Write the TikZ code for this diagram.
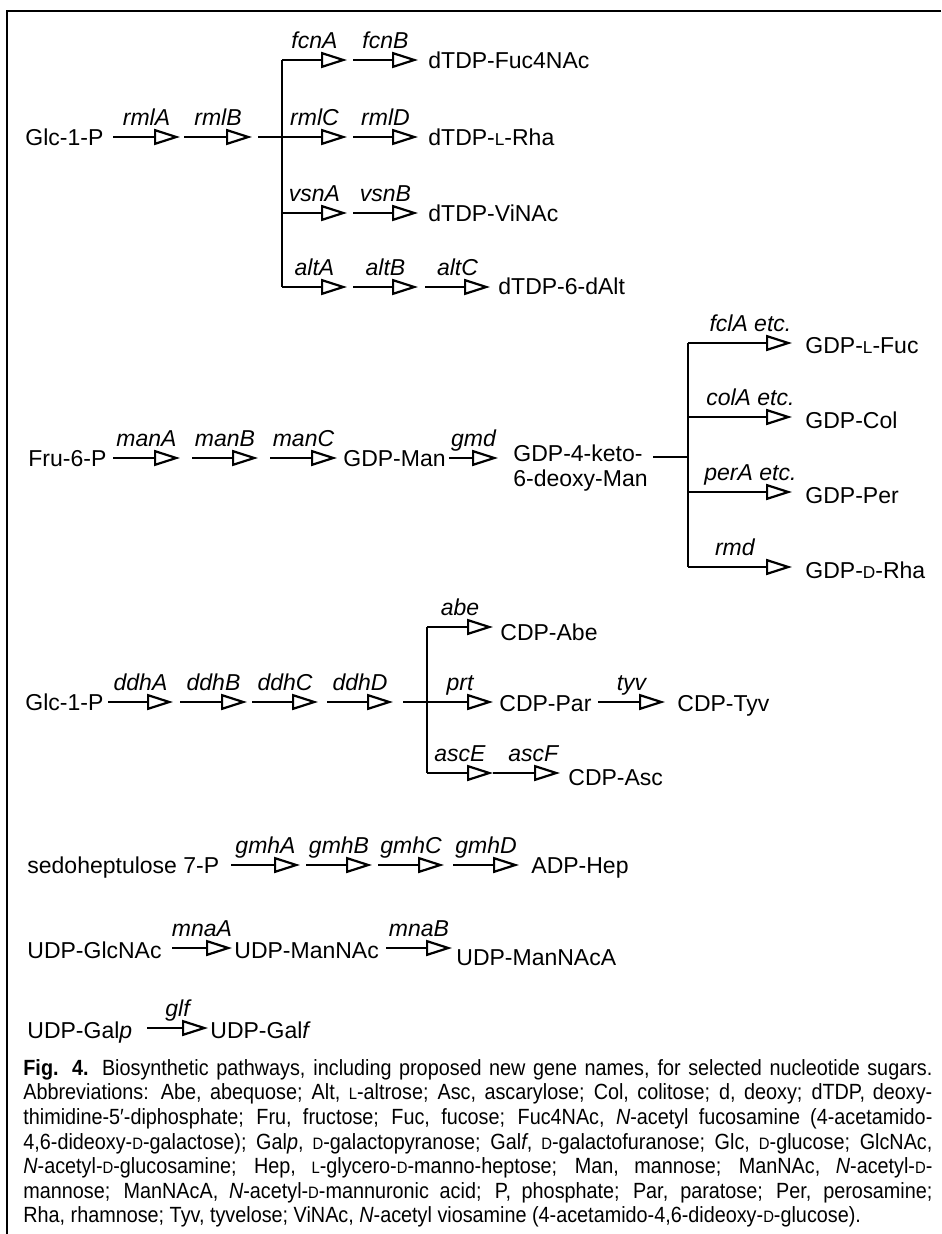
\documentclass[tikz,border=0pt]{standalone}
\usepackage{fontspec}
\usepackage{tikz}
\setmainfont{Liberation Sans}
\usetikzlibrary{arrows.meta}
\newcommand{\lsc}{\scalebox{0.75}{L}}
\newcommand{\dsc}{\scalebox{0.75}{D}}
\newcommand{\captext}[1]{\scalebox{0.9}[1]{\parbox{505pt}{\fontsize{11}{12.3}\selectfont#1}}}
\tolerance=9999
\hyphenpenalty=10000

\tikzset{
  txt/.style={inner sep=0pt,font=\fontsize{11.5}{12.5}\selectfont},
  sugar/.style={txt,anchor=west,text height=8.2pt,text depth=0pt},
  gene/.style={txt,midway,above=5pt,text height=8.2pt,text depth=0pt,font=\fontsize{11.5}{12.5}\selectfont\itshape},
  rxn/.style={line width=1.1pt,-{Triangle[open,length=13pt,width=8pt]}},
  bar/.style={line width=1.1pt},
  capbox/.style={anchor=north west,inner sep=0pt}
}

\begin{document}
\begin{tikzpicture}[x=0.5pt,y=-0.5pt]
  \useasboundingbox (0,0) rectangle (941,1234);
  % Frame
  \draw[line width=0.8pt] (941,11) -- (7,11) -- (7,1234);

  % Glc-1-P to dTDP sugars
  \node[sugar] (glc1) at (25,137) {Glc-1-P};
  \coordinate (rml1a) at (113,137); \coordinate (rml1b) at (180,137);
  \coordinate (rml2a) at (184,137); \coordinate (rml2b) at (252,137);
  \coordinate (tstub) at (258,137); \coordinate (tj) at (282,137);
  \coordinate (tv1) at (282,60); \coordinate (tv3) at (282,213); \coordinate (tv4) at (282,287);
  \draw[rxn] (rml1a) -- (rml1b) node[gene] (rmlA) {rmlA};
  \draw[rxn] (rml2a) -- (rml2b) node[gene] (rmlB) {rmlB};
  \draw[bar] (tstub) -- (tj);
  \draw[bar] (tv1) -- (tv4);
  % fcn
  \coordinate (fcn1) at (347,60); \coordinate (fcn2a) at (353,60); \coordinate (fcn2b) at (418,60);
  \draw[rxn] (tv1) -- (fcn1) node[gene] (fcnA) {fcnA};
  \draw[rxn] (fcn2a) -- (fcn2b) node[gene] (fcnB) {fcnB};
  \node[sugar] (fuc4nac) at (428,60) {dTDP-Fuc4NAc};
  % rml
  \coordinate (rml3) at (347,137); \coordinate (rml4a) at (353,137); \coordinate (rml4b) at (418,137);
  \draw[rxn] (tj) -- (rml3) node[gene] (rmlC) {rmlC};
  \draw[rxn] (rml4a) -- (rml4b) node[gene] (rmlD) {rmlD};
  \node[sugar] (lrha) at (428,137) {dTDP-\lsc-Rha};
  % vsn
  \coordinate (vsn1) at (347,213); \coordinate (vsn2a) at (353,213); \coordinate (vsn2b) at (418,213);
  \draw[rxn] (tv3) -- (vsn1) node[gene] (vsnA) {vsnA};
  \draw[rxn] (vsn2a) -- (vsn2b) node[gene] (vsnB) {vsnB};
  \node[sugar] (vinac) at (428,213) {dTDP-ViNAc};
  % alt
  \coordinate (alt1) at (347,287); \coordinate (alt2a) at (353,287); \coordinate (alt2b) at (418,287);
  \coordinate (alt3a) at (425,287); \coordinate (alt3b) at (490,287);
  \draw[rxn] (tv4) -- (alt1) node[gene] (altA) {altA};
  \draw[rxn] (alt2a) -- (alt2b) node[gene] (altB) {altB};
  \draw[rxn] (alt3a) -- (alt3b) node[gene] (altC) {altC};
  \node[sugar] (dalt) at (498,286) {dTDP-6-dAlt};

  % Fru-6-P to GDP sugars
  \node[sugar] (fru6p) at (28,458) {Fru-6-P};
  \coordinate (man1a) at (113,458); \coordinate (man1b) at (180,458);
  \coordinate (man2a) at (192,458); \coordinate (man2b) at (258,458);
  \coordinate (man3a) at (270,458); \coordinate (man3b) at (337,458);
  \draw[rxn] (man1a) -- (man1b) node[gene] (manA) {manA};
  \draw[rxn] (man2a) -- (man2b) node[gene] (manB) {manB};
  \draw[rxn] (man3a) -- (man3b) node[gene] (manC) {manC};
  \node[sugar] (gdpman) at (343,458) {GDP-Man};
  \coordinate (gmda) at (449,458); \coordinate (gmdb) at (498,458);
  \draw[rxn] (gmda) -- (gmdb) node[gene] (gmd) {gmd};
  \node[txt,anchor=north west,align=left] (keto) at (513,444) {GDP-4-keto-\\6-deoxy-Man};
  \coordinate (gstub) at (653,457); \coordinate (gj) at (688,457);
  \coordinate (gv1) at (688,343); \coordinate (gv2) at (688,417);
  \coordinate (gv3) at (688,492); \coordinate (gv4) at (688,567);
  \draw[bar] (gstub) -- (gj);
  \draw[bar] (gv1) -- (gv4);
  \coordinate (fcl) at (792,343); \coordinate (col) at (792,417);
  \coordinate (per) at (792,492); \coordinate (rmd1) at (792,567);
  \draw[rxn] (gv1) -- (fcl) node[gene,pos=0.6] (fclA) {fclA etc.};
  \draw[rxn] (gv2) -- (col) node[gene,pos=0.6] (colA) {colA etc.};
  \draw[rxn] (gv3) -- (per) node[gene,pos=0.6] (perA) {perA etc.};
  \draw[rxn] (gv4) -- (rmd1) node[gene,pos=0.45] (rmd) {rmd};
  \node[sugar] (lfuc) at (805,345) {GDP-\lsc-Fuc};
  \node[sugar] (gcol) at (805,420) {GDP-Col};
  \node[sugar] (gper) at (805,495) {GDP-Per};
  \node[sugar] (drha) at (805,570) {GDP-\dsc-Rha};

  % Glc-1-P to CDP sugars
  \node[sugar] (glc2) at (25,702) {Glc-1-P};
  \coordinate (ddh1a) at (108,702); \coordinate (ddh1b) at (173,702);
  \coordinate (ddh2a) at (180,702); \coordinate (ddh2b) at (247,702);
  \coordinate (ddh3a) at (252,702); \coordinate (ddh3b) at (318,702);
  \coordinate (ddh4a) at (327,702); \coordinate (ddh4b) at (393,702);
  \draw[rxn] (ddh1a) -- (ddh1b) node[gene] (ddhA) {ddhA};
  \draw[rxn] (ddh2a) -- (ddh2b) node[gene] (ddhB) {ddhB};
  \draw[rxn] (ddh3a) -- (ddh3b) node[gene] (ddhC) {ddhC};
  \draw[rxn] (ddh4a) -- (ddh4b) node[gene] (ddhD) {ddhD};
  \coordinate (cstub) at (403,702); \coordinate (cj) at (427,702);
  \coordinate (cv1) at (427,627); \coordinate (cv3) at (427,773);
  \draw[bar] (cstub) -- (cj);
  \draw[bar] (cv1) -- (cv3);
  \coordinate (abe1) at (493,627); \coordinate (prt1) at (493,702);
  \coordinate (asc1) at (493,773); \coordinate (asc2) at (560,773);
  \coordinate (tyva) at (598,702); \coordinate (tyvb) at (665,702);
  \draw[rxn] (cv1) -- (abe1) node[gene] (abe) {abe};
  \draw[rxn] (cj) -- (prt1) node[gene] (prt) {prt};
  \draw[rxn] (tyva) -- (tyvb) node[gene] (tyv) {tyv};
  \draw[rxn] (cv3) -- (asc1) node[gene] (ascE) {ascE};
  \draw[rxn] (asc1) -- (asc2) node[gene,pos=0.6] (ascF) {ascF};
  \node[sugar] (cabe) at (500,632) {CDP-Abe};
  \node[sugar] (cpar) at (499,703) {CDP-Par};
  \node[sugar] (ctyv) at (677,703) {CDP-Tyv};
  \node[sugar] (casc) at (568,777) {CDP-Asc};

  % ADP-Hep
  \node[sugar] (sedo) at (27,865) {sedoheptulose 7-P};
  \coordinate (gmh1a) at (231,865); \coordinate (gmh1b) at (300,865);
  \coordinate (gmh2a) at (306,865); \coordinate (gmh2b) at (372,865);
  \coordinate (gmh3a) at (378,865); \coordinate (gmh3b) at (444,865);
  \coordinate (gmh4a) at (453,865); \coordinate (gmh4b) at (519,865);
  \draw[rxn] (gmh1a) -- (gmh1b) node[gene] (gmhA) {gmhA};
  \draw[rxn] (gmh2a) -- (gmh2b) node[gene] (gmhB) {gmhB};
  \draw[rxn] (gmh3a) -- (gmh3b) node[gene] (gmhC) {gmhC};
  \draw[rxn] (gmh4a) -- (gmh4b) node[gene] (gmhD) {gmhD};
  \node[sugar] (adphep) at (531,865) {ADP-Hep};

  % UDP sugars
  \node[sugar] (glcnac) at (27,950) {UDP-GlcNAc};
  \coordinate (mna1a) at (172,948); \coordinate (mna1b) at (232,948);
  \coordinate (mna2a) at (386,948); \coordinate (mna2b) at (452,948);
  \draw[rxn] (mna1a) -- (mna1b) node[gene] (mnaA) {mnaA};
  \draw[rxn] (mna2a) -- (mna2b) node[gene] (mnaB) {mnaB};
  \node[sugar] (mannac) at (234,950) {UDP-ManNAc};
  \node[sugar] (mannaca) at (456,957) {UDP-ManNAcA};
  \node[sugar] (galp) at (27,1030) {UDP-Gal\textit{p}};
  \coordinate (glfa) at (147,1028); \coordinate (glfb) at (208,1028);
  \draw[rxn] (glfa) -- (glfb) node[gene] (glf) {glf};
  \node[sugar] (galf) at (210,1030) {UDP-Gal\textit{f}};

  % Caption
  \node[capbox] (caption) at (23,1059) {\captext{\textbf{Fig. 4.} Biosynthetic pathways, including proposed new gene names, for selected nucleotide sugars.\linebreak
  Abbreviations: Abe, abequose; Alt, \lsc-altrose; Asc, ascarylose; Col, colitose; d, deoxy; dTDP, deoxy-\linebreak
  thimidine-5′-diphosphate; Fru, fructose; Fuc, fucose; Fuc4NAc, \textit{N}-acetyl fucosamine (4-acetamido-\linebreak
  4,6-dideoxy-\dsc-galactose); Gal\textit{p}, \dsc-galactopyranose; Gal\textit{f}, \dsc-galactofuranose; Glc, \dsc-glucose; GlcNAc,\linebreak
  \textit{N}-acetyl-\dsc-glucosamine; Hep, \lsc-glycero-\dsc-manno-heptose; Man, mannose; ManNAc, \textit{N}-acetyl-\dsc-\linebreak
  mannose; ManNAcA, \textit{N}-acetyl-\dsc-mannuronic acid; P, phosphate; Par, paratose; Per, perosamine;\linebreak
  Rha, rhamnose; Tyv, tyvelose; ViNAc, \textit{N}-acetyl viosamine (4-acetamido-4,6-dideoxy-\dsc-glucose).}};
\end{tikzpicture}
\end{document}
